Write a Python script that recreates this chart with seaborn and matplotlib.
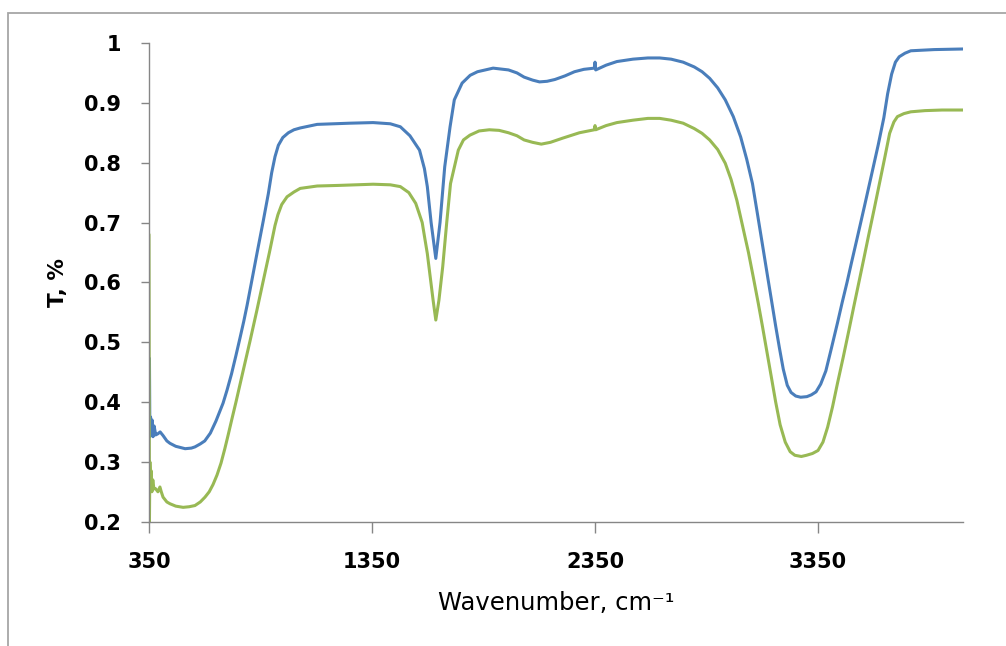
import numpy as np
import pandas as pd
import matplotlib
matplotlib.use("Agg")
import matplotlib.pyplot as plt
from matplotlib.patches import Rectangle
import seaborn as sns

# ---- data ----
blue_wn = [351, 352, 354, 357, 360, 364, 368, 373, 380, 390, 400, 413, 430, 444, 470, 512, 540, 556,
           580, 600, 625, 650, 682, 700, 720, 740, 758, 775, 790, 808, 835, 862, 885, 900, 915, 930,
           950, 975, 1000, 1028, 1104, 1252, 1355, 1432, 1477, 1520, 1563, 1585, 1598, 1615, 1636,
           1655, 1676, 1700, 1719, 1754, 1790, 1823, 1893, 1962, 2000, 2032, 2070, 2101, 2135, 2170,
           2215, 2258, 2300, 2347, 2350, 2353, 2400, 2448, 2520, 2587, 2640, 2691, 2745, 2795, 2830,
           2864, 2900, 2934, 2970, 3003, 3030, 3056, 3078, 3099, 3112, 3125, 3143, 3160, 3177, 3194,
           3212, 3229, 3250, 3272, 3300, 3320, 3341, 3362, 3385, 3410, 3437, 3458, 3480, 3500, 3523,
           3558, 3593, 3620, 3645, 3662, 3680, 3697, 3714, 3740, 3766, 3871, 4000]
blue_t = [0.350, 0.473, 0.342, 0.375, 0.345, 0.370, 0.342, 0.360, 0.345, 0.347, 0.350, 0.344, 0.335,
          0.331, 0.326, 0.322, 0.323, 0.325, 0.330, 0.335, 0.348, 0.368, 0.398, 0.420, 0.447, 0.478,
          0.507, 0.535, 0.562, 0.597, 0.650, 0.702, 0.748, 0.783, 0.810, 0.829, 0.842, 0.850, 0.855,
          0.858, 0.864, 0.866, 0.867, 0.865, 0.860, 0.845, 0.821, 0.790, 0.760, 0.700, 0.640, 0.700,
          0.793, 0.860, 0.905, 0.933, 0.946, 0.952, 0.958, 0.955, 0.950, 0.943, 0.938, 0.935, 0.936,
          0.939, 0.945, 0.952, 0.956, 0.958, 0.968, 0.955, 0.963, 0.969, 0.973, 0.975, 0.975, 0.973,
          0.968, 0.960, 0.952, 0.941, 0.925, 0.905, 0.877, 0.843, 0.806, 0.765, 0.715, 0.667, 0.637,
          0.607, 0.566, 0.527, 0.490, 0.455, 0.428, 0.416, 0.410, 0.408, 0.409, 0.412, 0.417, 0.430,
          0.452, 0.490, 0.532, 0.566, 0.600, 0.633, 0.670, 0.727, 0.785, 0.830, 0.875, 0.915, 0.948,
          0.968, 0.977, 0.983, 0.987, 0.989, 0.990]

green_wn = [350, 352, 354, 357, 360, 363, 367, 372, 380, 390, 399, 405, 413, 430, 444, 470, 503, 530,
            556, 580, 601, 620, 637, 655, 673, 690, 705, 722, 740, 772, 803, 833, 862, 890, 905, 915,
            928, 945, 969, 1000, 1028, 1104, 1200, 1355, 1432, 1477, 1515, 1546, 1575, 1598, 1624,
            1636, 1650, 1667, 1685, 1702, 1737, 1760, 1789, 1830, 1876, 1920, 1962, 2000, 2032, 2070,
            2109, 2150, 2205, 2280, 2347, 2350, 2353, 2400, 2448, 2520, 2587, 2640, 2691, 2745, 2795,
            2830, 2864, 2900, 2934, 2960, 2986, 3010, 3038, 3060, 3082, 3100, 3116, 3140, 3160, 3180,
            3203, 3225, 3246, 3275, 3298, 3325, 3350, 3372, 3393, 3415, 3437, 3463, 3489, 3510, 3532,
            3555, 3576, 3602, 3628, 3650, 3671, 3690, 3706, 3735, 3766, 3830, 3906, 4000]
green_t = [0.680, 0.200, 0.300, 0.260, 0.285, 0.250, 0.270, 0.255, 0.255, 0.250, 0.258, 0.250, 0.241,
           0.233, 0.230, 0.226, 0.224, 0.225, 0.227, 0.233, 0.241, 0.250, 0.262, 0.278, 0.298, 0.322,
           0.345, 0.372, 0.400, 0.452, 0.502, 0.552, 0.602, 0.650, 0.677, 0.695, 0.713, 0.730, 0.743,
           0.751, 0.757, 0.761, 0.762, 0.764, 0.763, 0.760, 0.750, 0.732, 0.700, 0.648, 0.570,
           0.537, 0.570, 0.626, 0.700, 0.765, 0.821, 0.838, 0.846, 0.853, 0.855, 0.854, 0.850, 0.845,
           0.838, 0.834, 0.831, 0.834, 0.841, 0.850, 0.855, 0.862, 0.855, 0.862, 0.867, 0.871, 0.874,
           0.874, 0.871, 0.866, 0.857, 0.849, 0.838, 0.822, 0.799, 0.772, 0.737, 0.697, 0.650, 0.608,
           0.565, 0.528, 0.494, 0.443, 0.400, 0.362, 0.333, 0.317, 0.311, 0.309, 0.311, 0.314, 0.319,
           0.333, 0.358, 0.392, 0.431, 0.475, 0.521, 0.559, 0.598, 0.639, 0.677, 0.723, 0.770, 0.810,
           0.849, 0.868, 0.877, 0.882, 0.885, 0.887, 0.888, 0.888]

x_ticks = [350, 1350, 2350, 3350]
y_ticks = [0.2, 0.3, 0.4, 0.5, 0.6, 0.7, 0.8, 0.9, 1.0]
y_tick_labels = ["0.2", "0.3", "0.4", "0.5", "0.6", "0.7", "0.8", "0.9", "1"]
series_names = ["sample 1", "sample 2"]
x_title = "Wavenumber, cm\u207b\u00b9"
y_title = "T, %"

# ---- build long-form table ----
df = pd.concat([
    pd.DataFrame({"wn": blue_wn, "T": blue_t, "series": series_names[0]}),
    pd.DataFrame({"wn": green_wn, "T": green_t, "series": series_names[1]}),
], ignore_index=True)

sns.set_style("white")
plt.rcParams["font.family"] = ["DejaVu Sans"]

W, H = 1006, 646
fig = plt.figure(figsize=(W / 100, H / 100), dpi=100)
left, right, top, bottom = 149, 963, 43, 521.7
ax = fig.add_axes([left / W, 1 - bottom / H, (right - left) / W, (bottom - top) / H])

palette = {series_names[0]: "#4A7EBB", series_names[1]: "#98B954"}
sns.lineplot(data=df, x="wn", y="T", hue="series", palette=palette, estimator=None,
             sort=False, legend=False, linewidth=2.2, ax=ax)

ax.set_xlim(350, 4000)
ax.set_ylim(0.2, 1.0)
ax.set_xticks(x_ticks)
ax.set_xticklabels([str(v) for v in x_ticks])
ax.set_yticks(y_ticks)
ax.set_yticklabels(y_tick_labels)

axis_col = "#868686"
for s in ["top", "right"]:
    ax.spines[s].set_visible(False)
for s in ["left", "bottom"]:
    ax.spines[s].set_color(axis_col)
    ax.spines[s].set_linewidth(1.0)
ax.tick_params(axis="x", direction="out", length=8, width=1.0, color=axis_col, pad=14,
               labelsize=15, labelcolor="black", bottom=True)
ax.tick_params(axis="y", direction="out", length=6, width=1.0, color=axis_col, pad=14,
               labelsize=15, labelcolor="black", left=True)
for lab in ax.get_xticklabels() + ax.get_yticklabels():
    lab.set_fontweight("bold")

ax.set_xlabel(x_title, fontsize=17.5, color="black")
ax.set_ylabel(y_title, fontsize=15.5, color="black", fontweight="bold")
ax.xaxis.set_label_coords(0.5, -0.145)
ax.yaxis.set_label_coords(-0.10, 0.5)
ax.grid(False)

# outer chart-area frame (cut off at right and bottom like the reference)
fig.add_artist(Rectangle((8 / W, -0.1), 1.5, (1 - 13 / H) + 0.1, transform=fig.transFigure,
                         fill=False, edgecolor="#A6A6A6", linewidth=1.3))

fig.savefig("out.png", dpi=100)
